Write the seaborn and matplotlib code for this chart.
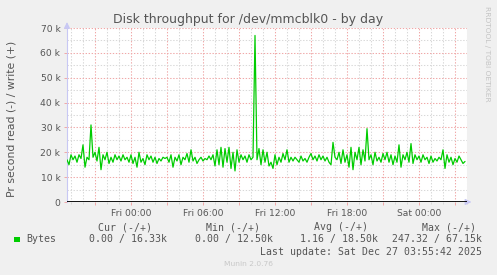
import numpy as np
import pandas as pd
import matplotlib
matplotlib.use("Agg")
import matplotlib.pyplot as plt
import seaborn as sns
from matplotlib.patches import Rectangle

# ---------------- data (write throughput, k bytes/s, 10-minute samples) -------------
write_k = [
    17, 15, 19, 17, 18.5, 16, 19, 17.5, 23, 14, 18, 17, 31, 18, 20, 16.5, 22,
    13, 19, 17, 20, 15.5, 18, 16, 19, 17, 18.5, 16.5, 19, 17, 18, 16,
    19, 15.5, 18, 14, 20, 16, 17.5, 15, 19, 17, 18.5, 16, 18, 15.5, 17.5, 16.5, 18, 17.5,
    18, 16, 19, 14, 18, 16.5, 19, 15, 18, 17, 19.5, 16, 21, 16.5, 18, 15.5, 17, 18, 16.5, 17.5,
    17, 18.5, 17, 19, 14.5, 21, 15, 22, 14, 21.5, 16, 22, 13.5, 20, 12.5, 21, 16, 19, 17, 18.5,
    16, 19, 17, 18, 67, 17, 21.5, 15, 21, 16, 20, 14.5,
    16, 13.5, 19, 15, 18, 16, 19.5, 17, 21, 16, 18, 16.5, 18, 17, 16, 18.5, 16.5, 17.5, 16, 18,
    19.5, 17, 18.5, 16.5, 19, 17, 18.5, 16.5, 18, 16, 15, 24, 18, 17, 20, 15.5, 21, 16, 19, 14,
    22, 13, 20, 17, 22, 15, 21, 16.5, 29.5, 17,
    19, 15, 20, 16.5, 18, 16, 19.5, 17, 20, 16, 19, 15, 18.5, 16, 23, 14, 19, 17, 20, 16,
    23.5, 15.5, 19, 17, 18.5, 16, 19, 17, 18, 15.5, 18.5, 16, 17.5, 16.5, 18, 17, 21, 13.5, 19, 16,
    18, 15, 17.5, 16, 18.5, 17, 15.5, 16.3,
]
series_start = "2025-12-25 18:40"
sample_step = "10min"
view_start = "2025-12-25 18:40"
view_end = "2025-12-27 04:00"

y_ticks = [0, 10000, 20000, 30000, 40000, 50000, 60000, 70000]
y_tick_labels = ["0", "10 k", "20 k", "30 k", "40 k", "50 k", "60 k", "70 k"]
y_minor = [5000, 15000, 25000, 35000, 45000, 55000, 65000]

x_labels = {
    "2025-12-26 00:00": "Fri 00:00",
    "2025-12-26 06:00": "Fri 06:00",
    "2025-12-26 12:00": "Fri 12:00",
    "2025-12-26 18:00": "Fri 18:00",
    "2025-12-27 00:00": "Sat 00:00",
}

title = "Disk throughput for /dev/mmcblk0 - by day"
y_label = "Pr second read (-) / write (+)"
series_name = "Bytes"
stat_headers = ["Cur (-/+)", "Min (-/+)", "Avg (-/+)", "Max (-/+)"]
stat_values = ["0.00 / 16.33k", "0.00 / 12.50k", "1.16 / 18.50k", "247.32 / 67.15k"]
last_update = "Last update: Sat Dec 27 03:55:42 2025"
footer = "Munin 2.0.76"
side_text = "RRDTOOL / TOBI OETIKER"

# ---------------- figure ----------------
times = pd.date_range(series_start, periods=len(write_k), freq=sample_step)
df = pd.DataFrame({"time": times, "bytes": np.array(write_k) * 1000.0})

sns.set_style("white")
plt.rcParams["font.family"] = ["DejaVu Sans"]

W, H = 497, 275
fig = plt.figure(figsize=(W / 100, H / 100), dpi=100, facecolor="#F0F0F0")
ax = fig.add_axes([67 / W, 73 / H, 400 / W, 174 / H])
ax.set_facecolor("white")

RED = "#f0a8a8"
GREY = "#d8d8d8"
TXT = "#555555"

sns.lineplot(data=df, x="time", y="bytes", ax=ax, color="#00CC00", lw=0.9, zorder=4)
ax.axhline(0, color="black", lw=1.3, zorder=5)

ax.set_xlim(pd.Timestamp(view_start), pd.Timestamp(view_end))
ax.set_ylim(0, 70000)

major_x = pd.date_range("2025-12-25 21:00", "2025-12-27 03:00", freq="3h")
minor_x = pd.date_range("2025-12-25 19:00", "2025-12-27 04:00", freq="1h")
minor_x = [t for t in minor_x if t not in set(major_x)]
ax.set_xticks(major_x)
ax.set_xticklabels([x_labels.get(t.strftime("%Y-%m-%d %H:%M"), "") for t in major_x])
ax.set_xticks(minor_x, minor=True)
ax.set_yticks(y_ticks)
ax.set_yticklabels(y_tick_labels)
ax.set_yticks(y_minor, minor=True)

dots = (0, (1.3, 1.6))
ax.grid(which="major", color=RED, lw=0.75, linestyle=dots, zorder=1)
ax.grid(which="minor", color=GREY, lw=0.75, linestyle=dots, zorder=0)
ax.set_axisbelow(True)

ax.tick_params(which="major", direction="out", length=2.2, width=0.7, color=RED,
               labelsize=6.6, labelcolor=TXT, pad=2.5, bottom=True, left=True)
ax.tick_params(which="minor", direction="out", length=1.6, width=0.7, color=GREY,
               bottom=True, left=False)
ax.set_xlabel("")
ax.set_ylabel("")

for s in ["top", "right", "bottom"]:
    ax.spines[s].set_visible(False)
ax.spines["left"].set_color("#c8c8f4")
ax.spines["left"].set_linewidth(0.8)

arrow_c = "#c8c8f4"
ax.annotate("", xy=(0, 1.05), xytext=(0, 0.99), xycoords="axes fraction",
            arrowprops=dict(arrowstyle="-|>", color=arrow_c, lw=0.8, mutation_scale=9),
            annotation_clip=False)
ax.annotate("", xy=(1.018, 0), xytext=(0.99, 0), xycoords="axes fraction",
            arrowprops=dict(arrowstyle="-|>", color=arrow_c, lw=0.8, mutation_scale=9),
            annotation_clip=False)

def fx(px):
    return px / W

def fy(py):
    return 1 - py / H

fig.text(fx(248), fy(19.5), title, ha="center", va="center", fontsize=9, color=TXT)
fig.text(fx(12), fy(118.5), y_label, ha="center", va="center", rotation=90,
         fontsize=7.8, color=TXT)
fig.text(fx(487.5), fy(53.5), side_text, ha="center", va="center", rotation=270,
         fontsize=5.4, color="#c4c4c4")
fig.text(fx(248), fy(264.3), footer, ha="center", va="center", fontsize=5.4,
         color="#c8c8c8")

mono = dict(family="DejaVu Sans Mono", fontsize=7.1, color=TXT, va="center")
fig.patches.append(Rectangle((fx(14), fy(242.3)), 6 / W, 5.8 / H,
                             transform=fig.transFigure, facecolor="#00CC00",
                             edgecolor="none"))
fig.text(fx(26.7), fy(239.3), series_name, ha="left", **mono)

header_right = [151.7, 260.0, 367.7, 476.0]
value_right = [166.7, 272.7, 377.7, 482.3]
for h, hx in zip(stat_headers, header_right):
    fig.text(fx(hx), fy(227.4), h, ha="right", **mono)
for v, vx in zip(stat_values, value_right):
    fig.text(fx(vx), fy(239.3), v, ha="right", **mono)
fig.text(fx(482.3), fy(251.7), last_update, ha="right", **mono)

fig.savefig("out.png", dpi=100, facecolor=fig.get_facecolor())
